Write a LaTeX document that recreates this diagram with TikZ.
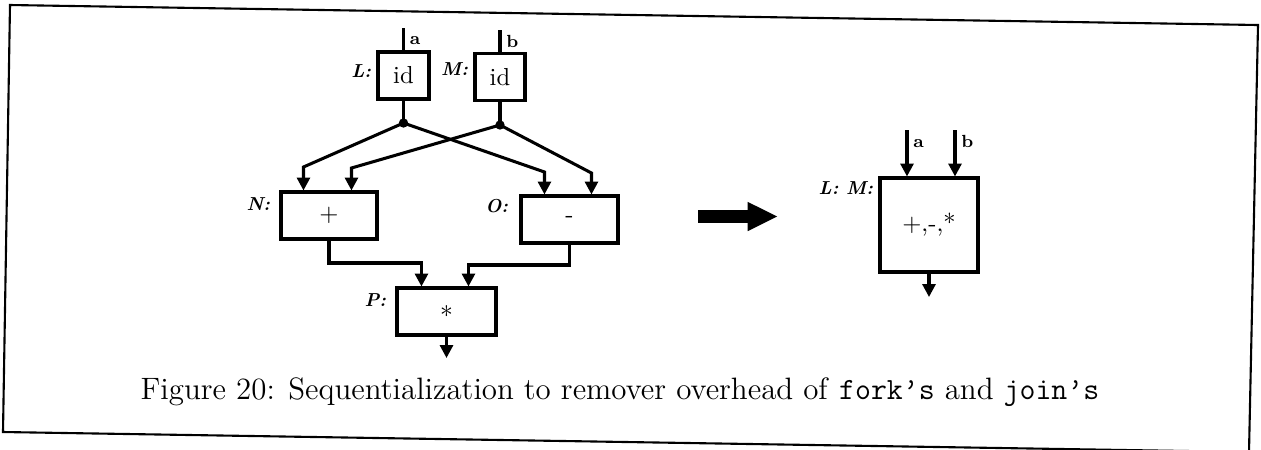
\documentclass[tikz,border=0pt]{standalone}
\usepackage{tikz}
\usetikzlibrary{arrows.meta,positioning,calc}
\tikzset{
  box/.style={rectangle, draw, line width=1.3pt, minimum height=7.05mm,
              inner sep=0pt, font=\fontsize{10.5}{11}\selectfont},
  lbl/.style={font=\fontsize{8}{9}\selectfont\bfseries\itshape, inner sep=0pt},
  pin/.style={font=\fontsize{7.5}{8}\selectfont\bfseries, inner sep=0pt},
  wire/.style={line width=1.3pt},
  arr/.style={-{Triangle[length=5.5pt,width=5.5pt]}, line width=1.3pt}
}

\begin{document}
\begin{tikzpicture}[x=0.15mm, y=-0.15mm]
  \useasboundingbox (0,0) rectangle (1261,449);
  \draw[line width=0.9pt] (10,5) -- (1258,25) -- (1249,452) -- (3,432) -- cycle;

  % fork/join graph
  \node[box, minimum width=7.65mm] (L) at (403.5,75.5) {id};
  \node[box, minimum width=7.5mm] (M) at (500,77) {id};
  \node[box, minimum width=14.4mm] (N) at (329,215.5) {+};
  \node[box, minimum width=14.55mm] (O) at (569.5,219.5) {-};
  \node[box, minimum width=14.85mm] (P) at (446.5,311.5) {$\ast$};
  \node[lbl, anchor=east] at ($(L.north west)+(-5,21)$) {L:};
  \node[lbl, anchor=east] at ($(M.north west)+(-5,17)$) {M:};
  \node[lbl, anchor=east] at ($(N.north west)+(-9,14)$) {N:};
  \node[lbl, anchor=east] at ($(O.north west)+(-11,12)$) {O:};
  \node[lbl, anchor=east] at ($(P.north west)+(-9,14)$) {P:};

  \coordinate (inA) at (403.5,28);
  \coordinate (inB) at (500,30);
  \draw[wire] (inA) -- (L.north);
  \draw[wire] (inB) -- (M.north);
  \node[pin, anchor=west] at ($(inA)+(6,13)$) {a};
  \node[pin, anchor=west] at ($(inB)+(6,11)$) {b};

  \coordinate (fL) at (403.5,123);
  \coordinate (fM) at (500,125);
  \draw[wire] (L.south) -- (fL);
  \draw[wire] (M.south) -- (fM);
  \fill (fL) circle (2pt);
  \fill (fM) circle (2pt);

  \coordinate (n1) at ($(N.north west)+(24,0)$);
  \coordinate (n2) at ($(N.north west)+(72,0)$);
  \coordinate (o1) at ($(O.north west)+(25,0)$);
  \coordinate (o2) at ($(O.north west)+(72,0)$);
  \draw[arr] (fL) -- (n1 |- 0,167) -- (n1);
  \draw[arr] (fL) -- (o1 |- 0,172) -- (o1);
  \draw[arr] (fM) -- (n2 |- 0,168) -- (n2);
  \draw[arr] (fM) -- (o2 |- 0,173) -- (o2);

  \coordinate (p1) at ($(P.north west)+(26,0)$);
  \coordinate (p2) at ($(P.north west)+(73,0)$);
  \draw[arr] (N.south) -- (N.south |- 0,263) -- (p1 |- 0,263) -- (p1);
  \draw[arr] (O.south) -- (O.south |- 0,265) -- (p2 |- 0,265) -- (p2);
  \coordinate (pout) at (446.5,358);
  \draw[arr] (P.south) -- (pout);

  % sequentialized
  \coordinate (bigL) at (698,216.5);
  \coordinate (bigR) at (778,216.5);
  \draw[line width=5.5pt, -{Triangle[length=13pt,width=11.5pt]}] (bigL) -- (bigR);

  \node[box, minimum width=14.7mm, minimum height=14.1mm] (R) at (929,225) {+,-,*};
  \node[lbl, anchor=east] at ($(R.north west)+(-5,12)$) {L: M:};
  \coordinate (ra) at (907,130);
  \coordinate (rb) at (955,130);
  \draw[arr] (ra) -- (ra |- R.north);
  \draw[arr] (rb) -- (rb |- R.north);
  \node[pin, anchor=west] at ($(ra)+(6,14)$) {a};
  \node[pin, anchor=west] at ($(rb)+(6,11)$) {b};
  \coordinate (rout) at (929,297);
  \draw[arr] (R.south) -- (rout);

  \node[font=\fontsize{13.2}{16}\selectfont] (cap) at (620,392)
    {Figure 20: Sequentialization to remover overhead of
     \texttt{fork\textquoteright s} and \texttt{join\textquoteright s}};
\end{tikzpicture}
\end{document}
